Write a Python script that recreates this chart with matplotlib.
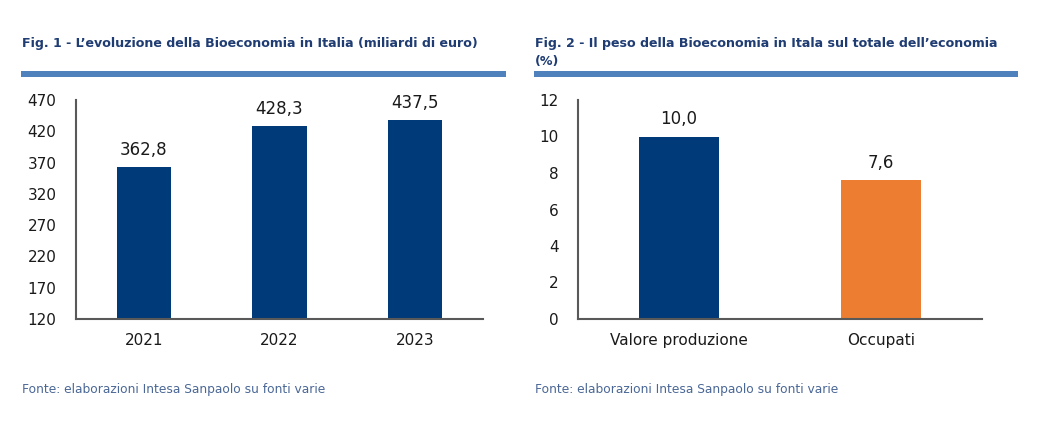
import matplotlib
matplotlib.use("Agg")
import matplotlib.pyplot as plt
from matplotlib.patches import Rectangle

plt.rcParams['font.family'] = ['DejaVu Sans']

# data
years = ["2021", "2022", "2023"]
valori = [362.8, 428.3, 437.5]
categorie = ["Valore produzione", "Occupati"]
pesi = [10.0, 7.6]

NAVY = "#003a78"
ORANGE = "#ed7d31"
TITLE_C = "#1f3c73"
RULE_C = "#4f81bd"
NOTE_C = "#4a6796"

W, H = 1049, 445
fig = plt.figure(figsize=(W / 100, H / 100), dpi=100)


def px(x0, y0, x1, y1):
    # pixel box -> figure fraction rect
    return [x0 / W, 1 - y1 / H, (x1 - x0) / W, (y1 - y0) / H]


def style_axes(ax):
    for s in ["top", "right"]:
        ax.spines[s].set_visible(False)
    for s in ["left", "bottom"]:
        ax.spines[s].set_color("#595959")
        ax.spines[s].set_linewidth(1.5)
    ax.tick_params(axis="both", length=0, labelsize=11, colors="#1a1a1a")
    ax.tick_params(axis="y", pad=14)
    ax.tick_params(axis="x", pad=10)


def fmt(v):
    return f"{v:.1f}".replace(".", ",")


# Fig. 1
ax1 = fig.add_axes(px(76, 100, 483, 319))
ax1.bar(range(len(years)), valori, width=0.4, color=NAVY, bottom=0)
ax1.set_ylim(120, 470)
ax1.set_yticks(range(120, 471, 50))
ax1.set_xlim(-0.5, len(years) - 0.5)
ax1.set_xticks(range(len(years)))
ax1.set_xticklabels(years)
style_axes(ax1)
for i, v in enumerate(valori):
    ax1.annotate(fmt(v), (i, v), xytext=(0, 6), textcoords="offset points",
                 ha="center", va="bottom", fontsize=12, color="#1a1a1a")

# Fig. 2
ax2 = fig.add_axes(px(578, 100, 982, 319))
ax2.bar(range(len(categorie)), pesi, width=0.4, color=[NAVY, ORANGE])
ax2.set_ylim(0, 12)
ax2.set_yticks(range(0, 13, 2))
ax2.set_xlim(-0.5, len(categorie) - 0.5)
ax2.set_xticks(range(len(categorie)))
ax2.set_xticklabels(categorie)
style_axes(ax2)
for i, v in enumerate(pesi):
    ax2.annotate(fmt(v), (i, v), xytext=(0, 6), textcoords="offset points",
                 ha="center", va="bottom", fontsize=12, color="#1a1a1a")

# titles, rules, notes
tfont = dict(fontsize=9.1, fontweight="bold", color=TITLE_C, va="center", ha="left")
fig.text(22 / W, 1 - 44 / H, "Fig. 1 - L’evoluzione della Bioeconomia in Italia (miliardi di euro)", **tfont)
fig.text(535 / W, 1 - 44 / H, "Fig. 2 - Il peso della Bioeconomia in Itala sul totale dell’economia", **tfont)
fig.text(535 / W, 1 - 62 / H, "(%)", **tfont)

for x0, x1 in [(21, 506), (534, 1018)]:
    fig.add_artist(Rectangle((x0 / W, 1 - 77 / H), (x1 - x0) / W, 6 / H,
                             transform=fig.transFigure, color=RULE_C, lw=0))

for x0 in [22, 535]:
    fig.text(x0 / W, 1 - 390 / H, "Fonte: elaborazioni Intesa Sanpaolo su fonti varie",
             fontsize=8.8, color=NOTE_C, va="center", ha="left")

fig.savefig("out.png", dpi=100)
